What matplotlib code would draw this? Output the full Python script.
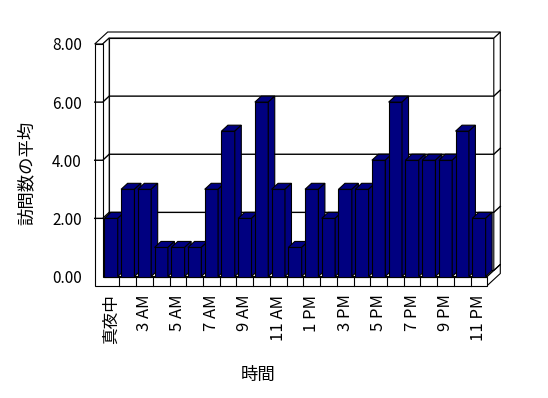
"""3D-style column chart: average visits per hour."""

import matplotlib

matplotlib.use("Agg")

import matplotlib.pyplot as plt
import numpy as np
from matplotlib.patches import Polygon

plt.rcParams["font.family"] = ["Noto Sans CJK JP", "DejaVu Sans"]

hour_labels = [
    "真夜中", "2 AM", "3 AM", "4 AM", "5 AM", "6 AM", "7 AM", "8 AM", "9 AM", "10 AM", "11 AM", "正午",
    "1 PM", "2 PM", "3 PM", "4 PM", "5 PM", "6 PM", "7 PM", "8 PM", "9 PM", "10 PM", "11 PM",
]
avg_visits = [2, 3, 3, 1, 1, 1, 3, 5, 2, 6, 3, 1, 3, 2, 3, 3, 4, 6, 4, 4, 4, 5, 2]
y_ticks = [0, 2, 4, 6, 8]

NAVY = "#000080"
FIG_W, FIG_H = 548, 398
# front plane of the plot in pixels
AX_L, AX_R, AX_TOP, AX_BOT = 102.7, 487.3, 44.0, 276.5

fig = plt.figure(figsize=(FIG_W / 100, FIG_H / 100), dpi=100)
ax = fig.add_axes([AX_L / FIG_W, 1 - AX_BOT / FIG_H, (AX_R - AX_L) / FIG_W, (AX_BOT - AX_TOP) / FIG_H])

n = len(avg_visits)
ymax = y_ticks[-1]
ax.set_xlim(0, n)
ax.set_ylim(0, ymax)
for s in ax.spines.values():
    s.set_visible(False)

# pixel sizes -> data units
sx = n / (AX_R - AX_L)
sy = ymax / (AX_BOT - AX_TOP)
DX, DY = 6.5 * sx, 6.0 * sy      # depth of the plot box
WALL, FLOOR = 8.0 * sx, 9.0 * sy  # wall / floor thickness

LW = 0.8


def poly(points, z, fc="white", lw=LW):
    ax.add_patch(Polygon(points, closed=True, facecolor=fc, edgecolor="black",
                         linewidth=lw, zorder=z, clip_on=False, joinstyle="miter"))


def line(xs, ys, z=2, lw=LW):
    ax.plot(xs, ys, color="black", linewidth=lw, zorder=z, clip_on=False, solid_joinstyle="miter")


# back wall, its thickness, left wall and floor
poly([(DX, DY), (n + DX, DY), (n + DX, ymax + DY), (DX, ymax + DY)], 1)
poly([(n + DX, DY), (n + 2 * DX, 2 * DY), (n + 2 * DX, ymax + 2 * DY), (n + DX, ymax + DY)], 1)
poly([(-WALL, ymax), (0, ymax), (DX, ymax + DY), (n + DX, ymax + DY),
      (n + 2 * DX, ymax + 2 * DY), (-WALL + 2 * DX, ymax + 2 * DY)], 1)
poly([(0, 0), (DX, DY), (DX, ymax + DY), (0, ymax)], 1)
poly([(0, 0), (n, 0), (n + DX, DY), (DX, DY)], 1)
poly([(n, -FLOOR), (n, 0), (n + 2 * DX, 2 * DY), (n + 2 * DX, 2 * DY - FLOOR)], 1)
poly([(-WALL, -FLOOR), (n, -FLOOR), (n, 0), (0, 0), (0, ymax), (-WALL, ymax)], 1)
for k in range(1, n):
    line([k, k], [-FLOOR, 0], z=1.5)

# gridlines running across the walls
for v in y_ticks[1:-1]:
    line([-WALL, 0, DX, n + DX, n + 2 * DX], [v, v, v + DY, v + DY, v + 2 * DY], lw=1.0)
line([n + DX, n + 2 * DX], [DY, 2 * DY])

# bars: front face via ax.bar, then top and side faces
x = np.arange(n) + 0.5
bw = 0.8
bars = ax.bar(x, avg_visits, width=bw, color=NAVY, edgecolor="black", linewidth=LW)
for i, (rect, v) in enumerate(zip(bars, avg_visits)):
    z = 10 + i
    rect.set_zorder(z)
    rect.set_clip_on(False)
    x0, x1 = x[i] - bw / 2, x[i] + bw / 2
    poly([(x0, v), (x1, v), (x1 + DX, v + DY), (x0 + DX, v + DY)], z, fc=NAVY)
    poly([(x1, 0), (x1 + DX, DY), (x1 + DX, v + DY), (x1, v)], z, fc=NAVY)

ax.set_yticks(y_ticks)
ax.set_yticklabels([f"{v:.2f}" for v in y_ticks], fontsize=11)
ax.set_xticks(x[::2])
ax.set_xticklabels(hour_labels[::2], rotation=90, fontsize=12)
ax.tick_params(axis="y", length=0, pad=15)
ax.tick_params(axis="x", length=0, pad=13)

ax.set_xlabel("時間", fontsize=12.5)
ax.xaxis.set_label_coords((258 - AX_L) / (AX_R - AX_L), -(375 - AX_BOT) / (AX_BOT - AX_TOP))
ax.xaxis.label.set_va("center")
ax.set_ylabel("訪問数の平均", fontsize=12.5)
ax.yaxis.set_label_coords((27 - AX_L) / (AX_R - AX_L), (AX_BOT - 173) / (AX_BOT - AX_TOP))
ax.yaxis.label.set_va("center")

fig.savefig("out.png", dpi=100, facecolor="white")
